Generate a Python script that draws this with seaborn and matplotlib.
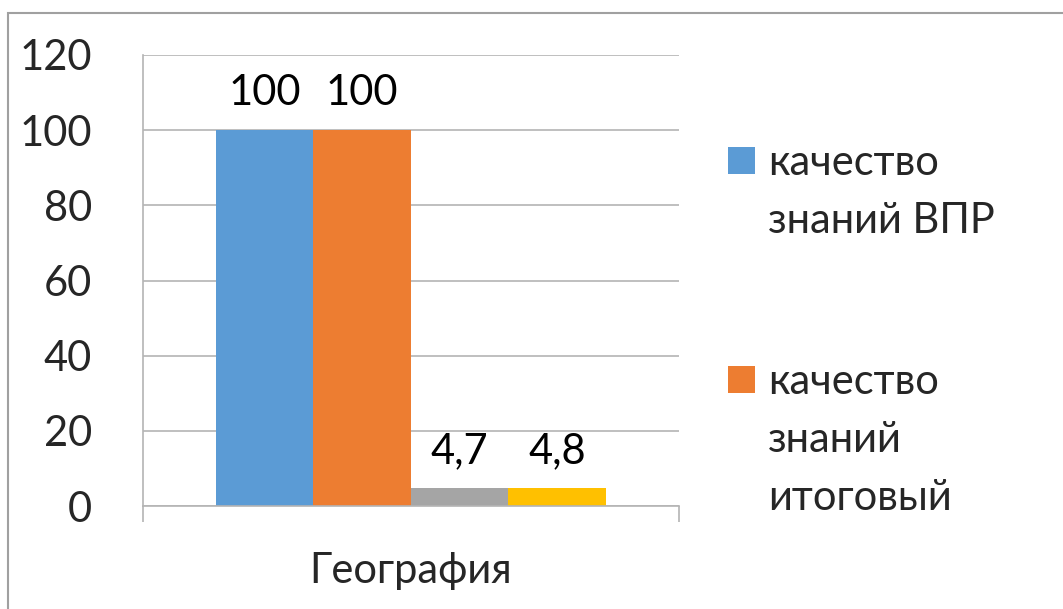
import matplotlib
matplotlib.use("Agg")
import matplotlib.pyplot as plt
from matplotlib.patches import Rectangle
import pandas as pd
import seaborn as sb

# chart data
subjects = ["География"]
series_names = ["качество знаний ВПР", "качество знаний итоговый", "ряд 3", "ряд 4"]
series_values = [100, 100, 4.7, 4.8]
series_colors = ["#5B9BD5", "#ED7D31", "#A5A5A5", "#FFC000"]
legend_labels = [["качество", "знаний ВПР"], ["качество", "знаний", "итоговый"]]
y_ticks = [0, 20, 40, 60, 80, 100, 120]

W, H = 1063, 609

sb.set_style("white")
plt.rcParams["font.family"] = ["Lato", "DejaVu Sans"]

df = pd.DataFrame({
    "subject": subjects * len(series_names),
    "series": series_names,
    "value": series_values,
})

fig = plt.figure(figsize=(W / 100, H / 100), dpi=100)
ax = fig.add_axes([142.7 / W, 1 - 506 / H, (679 - 142.7) / W, (506 - 55) / H])

sb.barplot(data=df, x="subject", y="value", hue="series", palette=series_colors,
           width=0.728, gap=0, saturation=1, legend=False, linewidth=0, ax=ax)

# value labels above the bars
for cont in ax.containers:
    ax.bar_label(cont, fmt=lambda v: f"{v:g}".replace(".", ","), padding=13,
                 fontsize=30, color="black")

grid_col = "#b4b4b4"
ax.set_ylim(0, 120)
ax.set_xlim(-0.5, 0.5)
ax.set_yticks(y_ticks)
ax.tick_params(axis="y", labelsize=30, length=11.5, width=1.2, color=grid_col, pad=25)
ax.yaxis.grid(True, color=grid_col, linewidth=1.2)
ax.set_axisbelow(True)

# category boundary ticks + centred category name
ax.set_xticks([-0.5, 0.5])
ax.set_xticklabels([])
ax.set_xticks([0], minor=True)
ax.set_xticklabels(subjects, minor=True)
ax.tick_params(axis="x", which="major", length=11.5, width=1.2, color=grid_col, bottom=True)
ax.tick_params(axis="x", which="minor", length=0, labelsize=30, pad=33)
ax.set_xlabel("")
ax.set_ylabel("")

for side in ["top", "right"]:
    ax.spines[side].set_visible(False)
for side in ["left", "bottom"]:
    ax.spines[side].set_color(grid_col)
    ax.spines[side].set_linewidth(1.2)

# legend, only the first two series are visible in the original
tops = [147, 366]
for i, lines in enumerate(legend_labels):
    y0 = tops[i]
    fig.add_artist(Rectangle((728 / W, 1 - (y0 + 27) / H), 27 / W, 27 / H,
                             transform=fig.transFigure, color=series_colors[i], lw=0))
    for j, line in enumerate(lines):
        fig.text(768 / W, 1 - (y0 + 28 + 58 * j) / H, line, fontsize=30,
                 va="baseline", ha="left")

# outer chart frame
fig.add_artist(Rectangle((7.5 / W, -0.1), 1.2, 1 - 13.5 / H + 0.1, transform=fig.transFigure,
                         fill=False, edgecolor="#a0a0a0", lw=1.5))

fig.savefig("out.png", dpi=100)
